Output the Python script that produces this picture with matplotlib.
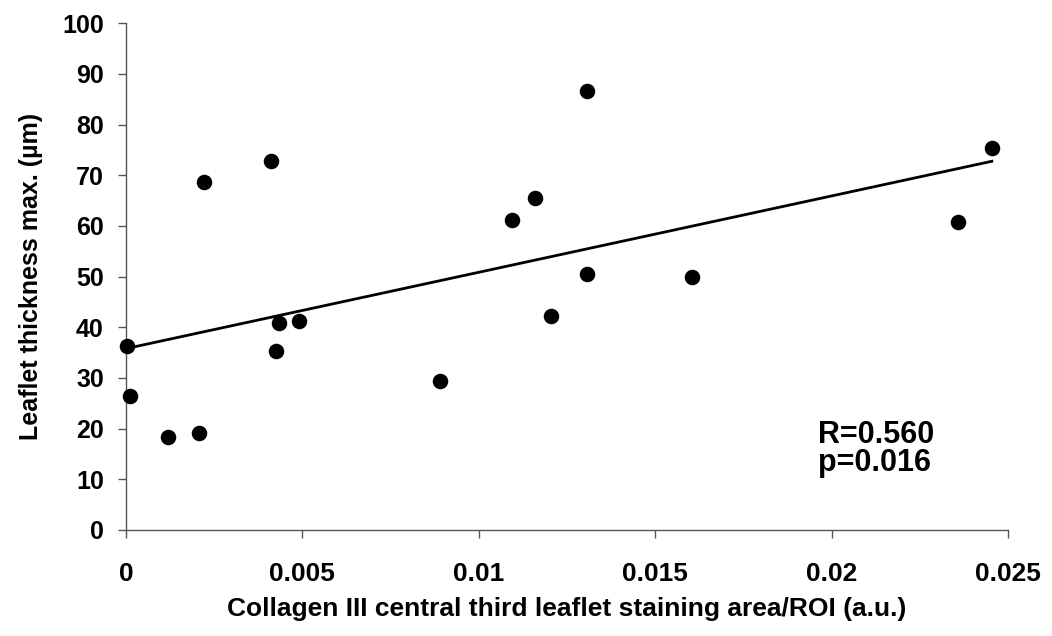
import numpy as np
import matplotlib
matplotlib.use("Agg")
import matplotlib.pyplot as plt

plt.rcParams['font.family'] = ['Liberation Sans', 'DejaVu Sans']
plt.rcParams['font.weight'] = 'bold'

# collagen III staining area vs. maximal leaflet thickness
collagen = [0.00004, 0.00011, 0.00120, 0.00207, 0.00222, 0.00411, 0.00425, 0.00434,
            0.00490, 0.00890, 0.01094, 0.01159, 0.01204, 0.01306, 0.01306, 0.01603,
            0.02359, 0.02454]
thickness = [36.3, 26.5, 18.3, 19.2, 68.6, 72.9, 35.4, 40.8,
             41.2, 29.5, 61.2, 65.6, 42.2, 86.6, 50.5, 50.0,
             60.7, 75.3]

xticks = [0, 0.005, 0.01, 0.015, 0.02, 0.025]
xtick_labels = ['0', '0.005', '0.01', '0.015', '0.02', '0.025']
yticks = list(range(0, 101, 10))

r_text = 'R=0.560\np=0.016'

x = np.array(collagen)
y = np.array(thickness)

fig = plt.figure(figsize=(10.52, 6.36), dpi=100)
ax = fig.add_axes([0.1198, 0.1667, 0.8384, 0.7967])

ax.scatter(x, y, s=125, color='black', zorder=3, clip_on=False, linewidths=0)

# linear trendline over the data range
slope, icpt = np.polyfit(x, y, 1)
xl = np.array([x.min(), x.max()])
ax.plot(xl, slope * xl + icpt, color='black', lw=2)

ax.set_xlim(0, 0.025)
ax.set_ylim(0, 100)
ax.set_xticks(xticks)
ax.set_xticklabels(xtick_labels)
ax.set_yticks(yticks)

for s in ['top', 'right']:
    ax.spines[s].set_visible(False)
for s in ['left', 'bottom']:
    ax.spines[s].set_color('#555555')
    ax.spines[s].set_linewidth(1)

ax.tick_params(direction='out', length=6, width=1, color='#555555')
ax.tick_params(axis='x', labelsize=19, pad=17)
ax.tick_params(axis='y', labelsize=18, pad=10)

ax.set_xlabel('Collagen III central third leaflet staining area/ROI (a.u.)',
              fontsize=19, fontweight='bold', labelpad=8)
ax.set_ylabel('Leaflet thickness max. (µm)', fontsize=18, fontweight='bold', labelpad=14)

ax.text(0.0196, 21.8, r_text, fontsize=22, fontweight='bold', va='top', ha='left',
        linespacing=0.95)

fig.savefig('out.png', dpi=100)
